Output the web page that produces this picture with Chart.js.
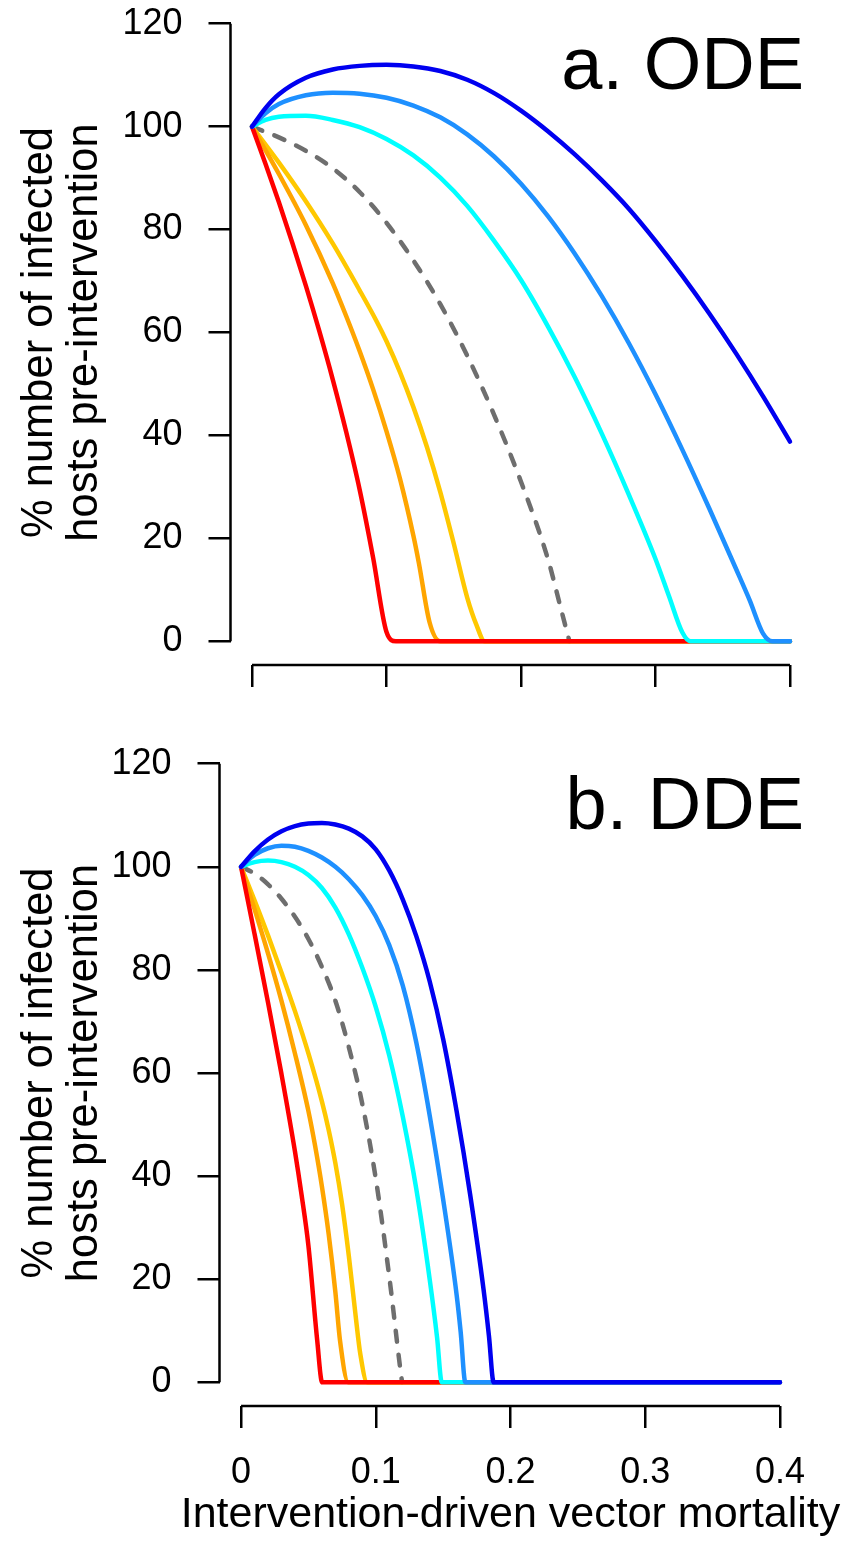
<!DOCTYPE html>
<html>
<head>
<meta charset="utf-8">
<script src="https://cdn.jsdelivr.net/npm/chart.js@4/dist/chart.umd.min.js"></script>
<style>
    html, body { margin: 0; padding: 0; background: #fff; }
    .panel { position: absolute; left: 0; width: 845px; }
    #odePanel { top: 0; height: 700px; }
    #ddePanel { top: 720px; height: 826px; }
</style>
</head>
<body>
<div class="panel" id="odePanel"><canvas id="odeChart"></canvas></div>
<div class="panel" id="ddePanel"><canvas id="ddeChart"></canvas></div>
<script>
const xTicks = [0, 0.1, 0.2, 0.3, 0.4]
const xTickLabels = ['0', '0.1', '0.2', '0.3', '0.4']
const yTicks = [0, 20, 40, 60, 80, 100, 120]
const yTickLabels = ['0', '20', '40', '60', '80', '100', '120']

// a. ODE
const odeBlueX = [0, 0.01, 0.02, 0.04, 0.06, 0.08, 0.1, 0.12, 0.14, 0.16, 0.18, 0.2, 0.22, 0.24, 0.26, 0.28, 0.3, 0.32, 0.34, 0.36, 0.38, 0.4]
const odeBlueY = [100, 103.6, 106.3, 109.5, 111.1, 111.8, 112, 111.7, 110.8, 109.1, 106.5, 103.1, 99.1, 94.6, 89.6, 84.1, 77.8, 71, 63.7, 55.9, 47.6, 38.8]
const odeDodgerX = [0, 0.01, 0.02, 0.04, 0.06, 0.08, 0.1, 0.12, 0.14, 0.16, 0.18, 0.2, 0.22, 0.24, 0.26, 0.28, 0.3, 0.32, 0.34, 0.36, 0.37, 0.38, 0.387, 0.4]
const odeDodgerY = [100, 102.6, 104.4, 106.1, 106.6, 106.4, 105.6, 104.1, 101.8, 98.5, 94.2, 88.9, 82.6, 75.3, 67.1, 58, 48, 37.2, 25.8, 14, 8, 1.5, 0, 0]
const odeCyanX = [0, 0.01, 0.02, 0.04, 0.06, 0.08, 0.1, 0.12, 0.14, 0.16, 0.18, 0.2, 0.22, 0.24, 0.26, 0.28, 0.3, 0.31, 0.32, 0.326, 0.4]
const odeCyanY = [100, 101.3, 101.9, 102.1, 101.3, 99.9, 97.6, 94.4, 90.1, 84.6, 77.8, 70.2, 61.2, 51.3, 40.4, 28.6, 16, 8.8, 1.7, 0, 0]
const odeRedX = [0, 0.01, 0.02, 0.03, 0.04, 0.05, 0.06, 0.07, 0.08, 0.09, 0.1, 0.107, 0.4]
const odeRedY = [100, 92.8, 85.3, 77.4, 69.1, 60.3, 50.9, 40.7, 29.5, 16.3, 1.8, 0, 0]
const odeOrangeX = [0, 0.02, 0.04, 0.06, 0.07, 0.08, 0.09, 0.1, 0.11, 0.12, 0.124, 0.132, 0.14, 0.4]
const odeOrangeY = [100, 90.8, 80.9, 69.6, 63.2, 56.4, 49, 40.8, 31.6, 20.5, 15.3, 3.7, 0, 0]
const odeYellowX = [0, 0.02, 0.04, 0.06, 0.08, 0.093, 0.1, 0.11, 0.12, 0.13, 0.14, 0.15, 0.16, 0.167, 0.173, 0.4]
const odeYellowY = [100, 93, 85.5, 77.3, 68.2, 62, 58.3, 52.3, 45.5, 37.8, 29, 19, 8.5, 3.1, 0, 0]
const odeGrayX = [0, 0.02, 0.04, 0.06, 0.08, 0.1, 0.12, 0.14, 0.16, 0.18, 0.2, 0.22, 0.23, 0.236]
const odeGrayY = [100, 97.9, 95.3, 91.9, 87.3, 81.3, 74, 65.5, 55.5, 44, 31, 16, 6, 0]

// b. DDE
const ddeBlueX = [0, 0.01, 0.02, 0.03, 0.04, 0.05, 0.06, 0.07, 0.08, 0.09, 0.1, 0.11, 0.12, 0.13, 0.14, 0.15, 0.16, 0.17, 0.18, 0.184, 0.1875, 0.4]
const ddeBlueY = [100, 103, 105.3, 106.9, 107.9, 108.4, 108.5, 108.2, 107.4, 105.9, 103.4, 99.3, 93.7, 86.6, 77.8, 66.6, 52.6, 36.5, 18, 9, 0, 0]
const ddeDodgerX = [0, 0.01, 0.02, 0.03, 0.04, 0.05, 0.06, 0.07, 0.08, 0.09, 0.1, 0.11, 0.12, 0.13, 0.14, 0.15, 0.16, 0.163, 0.1665, 0.4]
const ddeDodgerY = [100, 102.3, 103.6, 104.1, 103.9, 103.1, 101.8, 100, 97.6, 94.5, 90.4, 84.8, 77, 66, 51.8, 35.5, 17, 9.8, 0, 0]
const ddeCyanX = [0, 0.01, 0.02, 0.03, 0.04, 0.05, 0.06, 0.07, 0.08, 0.09, 0.1, 0.11, 0.12, 0.13, 0.14, 0.1455, 0.149, 0.4]
const ddeCyanY = [100, 100.9, 101.2, 100.9, 100, 98.4, 95.9, 92.1, 86.9, 80.4, 72.8, 63.4, 51.6, 37.6, 20, 8.7, 0, 0]
const ddeRedX = [0, 0.01, 0.02, 0.03, 0.04, 0.045, 0.05, 0.0565, 0.0602, 0.4]
const ddeRedY = [100, 87, 73.7, 59.8, 44.8, 36.2, 26.5, 8.2, 0, 0]
const ddeOrangeX = [0, 0.01, 0.02, 0.03, 0.04, 0.05, 0.055, 0.06, 0.065, 0.07, 0.0735, 0.0796, 0.4]
const ddeOrangeY = [100, 91.8, 83.2, 74, 63.8, 52.6, 45.8, 38, 28.8, 17.5, 8, 0, 0]
const ddeYellowX = [0, 0.01, 0.02, 0.03, 0.04, 0.05, 0.06, 0.065, 0.07, 0.075, 0.08, 0.085, 0.0885, 0.0937, 0.4]
const ddeYellowY = [100, 93.5, 86.7, 79.5, 72, 63.8, 54.5, 49, 42.5, 34.5, 24.5, 13, 5.5, 0, 0]
const ddeGrayX = [0, 0.01, 0.02, 0.03, 0.04, 0.05, 0.06, 0.07, 0.08, 0.09, 0.1, 0.11, 0.118, 0.1195]
const ddeGrayY = [100, 98.7, 96.6, 93.8, 90.3, 86, 80.6, 74, 65, 54, 39.5, 20.5, 3, 0]

const FONT = '"Liberation Sans", Arial, Helvetica, sans-serif'
const yTitle = ['% number of infected', 'hosts pre-intervention']
const xTitle = 'Intervention-driven vector mortality'

Chart.defaults.font.family = FONT
Chart.defaults.color = '#000'

function toPoints(xs, ys) {
    return xs.map((x, i) => ({ x: x, y: ys[i] }))
}

function line(xs, ys, color, dashed) {
    return {
        data: toPoints(xs, ys),
        borderColor: color,
        borderWidth: 4.5,
        borderDash: dashed ? [11, 13] : [],
        borderCapStyle: 'round',
        borderJoinStyle: 'round',
        cubicInterpolationMode: 'monotone',
        pointRadius: 0,
        fill: false
    }
}

// R style axes: the axis line only runs from the first to the last tick
const rAxes = {
    id: 'rAxes',
    afterDraw(chart) {
        const { ctx, chartArea, scales } = chart
        ctx.save()
        ctx.strokeStyle = '#000'
        ctx.lineWidth = 2.5
        ctx.beginPath()
        ctx.moveTo(chartArea.left, scales.y.getPixelForValue(yTicks[0]))
        ctx.lineTo(chartArea.left, scales.y.getPixelForValue(yTicks[yTicks.length - 1]))
        ctx.moveTo(scales.x.getPixelForValue(xTicks[0]), chartArea.bottom)
        ctx.lineTo(scales.x.getPixelForValue(xTicks[xTicks.length - 1]), chartArea.bottom)
        ctx.stroke()
        ctx.restore()
    }
}

// panel tag and the x title, which is wider than the plot so it is not squeezed
const panelText = {
    id: 'panelText',
    afterDraw(chart, args, opts) {
        const { ctx, chartArea } = chart
        ctx.save()
        ctx.fillStyle = '#000'
        ctx.font = `74px ${FONT}`
        ctx.textAlign = 'right'
        ctx.textBaseline = 'alphabetic'
        ctx.fillText(opts.label, 804, chartArea.top + 89)
        if (opts.xTitle) {
            ctx.font = `43px ${FONT}`
            ctx.textAlign = 'center'
            ctx.textBaseline = 'middle'
            ctx.fillText(opts.xTitle, (chartArea.left + chartArea.right) / 2, chart.height - 31)
        }
        ctx.restore()
    }
}

function renderPanel(canvasId, label, datasets, frame) {
    const ctx = document.getElementById(canvasId)
    return new Chart(ctx, {
        type: 'line',
        data: { datasets: datasets },
        plugins: [rAxes, panelText],
        options: {
            responsive: true,
            maintainAspectRatio: false,
            animation: false,
            events: [],
            layout: {
                padding: { left: frame.padLeft, right: frame.padRight, top: frame.padTop, bottom: 0 }
            },
            plugins: {
                legend: { display: false },
                tooltip: { enabled: false },
                panelText: { label: label, xTitle: frame.showXLabels ? xTitle : null }
            },
            scales: {
                x: {
                    type: 'linear',
                    min: -0.016,
                    max: 0.416,
                    afterBuildTicks: scale => { scale.ticks = xTicks.map(v => ({ value: v })) },
                    afterFit: scale => {
                        scale.height = frame.xHeight
                        scale.paddingLeft = 0
                        scale.paddingRight = 0
                    },
                    border: { display: false },
                    grid: { drawOnChartArea: false, drawTicks: true, tickLength: 22, color: '#000', lineWidth: 2.5 },
                    ticks: {
                        display: frame.showXLabels,
                        autoSkip: false,
                        maxRotation: 0,
                        padding: 23,
                        color: '#000',
                        font: { size: 36 },
                        callback: value => xTickLabels[xTicks.indexOf(value)]
                    }
                },
                y: {
                    type: 'linear',
                    min: -4.6,
                    max: 124.6,
                    afterBuildTicks: scale => { scale.ticks = yTicks.map(v => ({ value: v })) },
                    afterFit: scale => {
                        scale.width = frame.yWidth
                        scale.paddingTop = 0
                        scale.paddingBottom = 0
                    },
                    border: { display: false },
                    grid: { drawOnChartArea: false, drawTicks: true, tickLength: 22, color: '#000', lineWidth: 2.5 },
                    ticks: {
                        autoSkip: false,
                        padding: 26,
                        color: '#000',
                        font: { size: 36 },
                        callback: value => yTickLabels[yTicks.indexOf(value)]
                    },
                    title: {
                        display: true,
                        text: yTitle,
                        color: '#000',
                        font: { size: 43.5, lineHeight: 1.04 },
                        padding: 0
                    }
                }
            }
        }
    })
}

// first dataset is drawn on top
renderPanel('odeChart', 'a. ODE', [
    line(odeBlueX, odeBlueY, '#0000F0'),
    line(odeDodgerX, odeDodgerY, '#1E90FF'),
    line(odeCyanX, odeCyanY, '#00FFFF'),
    line(odeRedX, odeRedY, '#FF0000'),
    line(odeOrangeX, odeOrangeY, '#FFA500'),
    line(odeYellowX, odeYellowY, '#FFC800'),
    line(odeGrayX, odeGrayY, '#6E6E6E', true)
], { padLeft: 17, padRight: 33.5, padTop: 0, yWidth: 213.5, xHeight: 35, showXLabels: false })

renderPanel('ddeChart', 'b. DDE', [
    line(ddeBlueX, ddeBlueY, '#0000F0'),
    line(ddeDodgerX, ddeDodgerY, '#1E90FF'),
    line(ddeCyanX, ddeCyanY, '#00FFFF'),
    line(ddeRedX, ddeRedY, '#FF0000'),
    line(ddeOrangeX, ddeOrangeY, '#FFA500'),
    line(ddeYellowX, ddeYellowY, '#FFC800'),
    line(ddeGrayX, ddeGrayY, '#6E6E6E', true)
], { padLeft: 17, padRight: 43.5, padTop: 20, yWidth: 202.5, xHeight: 140, showXLabels: true })
</script>
</body>
</html>
